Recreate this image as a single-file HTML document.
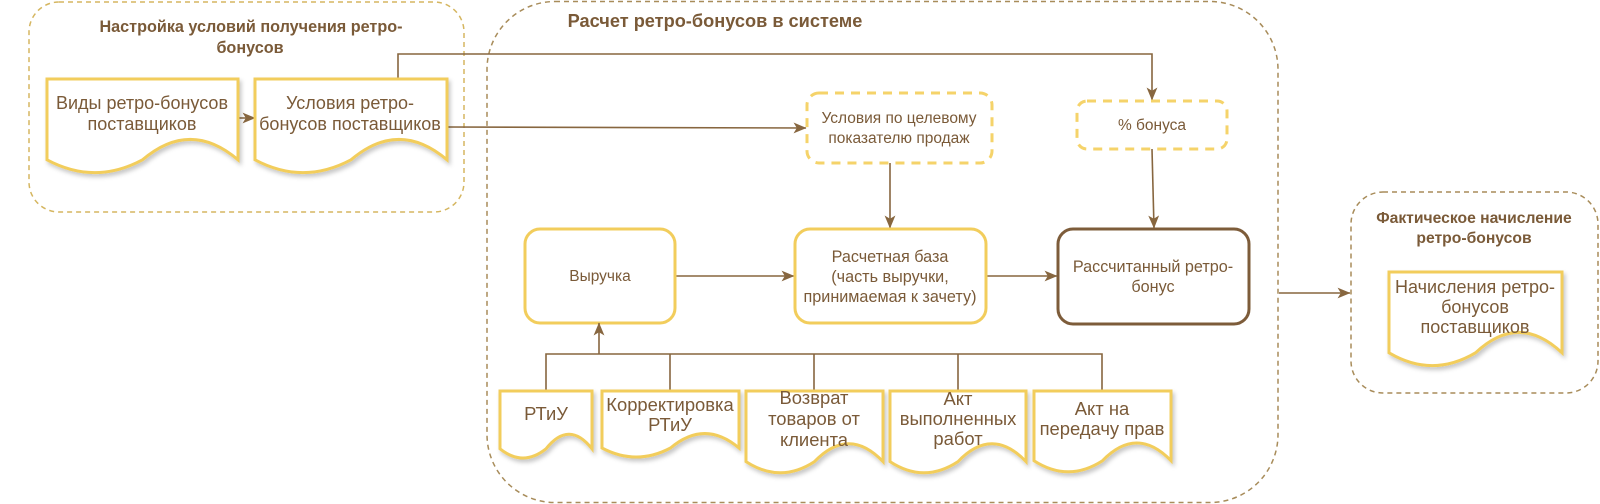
<!DOCTYPE html>
<html><head><meta charset="utf-8"><style>
html,body{margin:0;padding:0;background:#fff;}
svg{display:block;}
text{font-family:"Liberation Sans","DejaVu Sans",sans-serif;fill:#7a5a38;}
.t{font-weight:bold;}
</style></head><body>
<svg width="1600" height="504" viewBox="0 0 1600 504" xmlns="http://www.w3.org/2000/svg">
<defs>
<marker id="ar" viewBox="0 0 12 10" refX="11.5" refY="5" markerWidth="13" markerHeight="11" markerUnits="userSpaceOnUse" orient="auto">
<path d="M0,0 L12,5 L0,10 L3,5 Z" fill="#87663f"/>
</marker>
<filter id="sh" x="-10%" y="-10%" width="130%" height="140%">
<feDropShadow dx="2" dy="3" stdDeviation="2" flood-color="#000" flood-opacity="0.22"/>
</filter>
</defs>

<!-- groups -->
<rect x="29" y="2" width="435" height="210" rx="30" fill="none" stroke="#d5b660" stroke-width="1.5" stroke-dasharray="5 4"/>
<rect x="487" y="1.5" width="791" height="501" rx="68" fill="none" stroke="#a88c5a" stroke-width="1.5" stroke-dasharray="5 4"/>
<rect x="1351" y="192" width="247" height="201" rx="32" fill="none" stroke="#a88c5a" stroke-width="1.5" stroke-dasharray="5 4"/>

<!-- titles -->
<text class="t" x="251" y="32" font-size="16.2" text-anchor="middle">Настройка условий получения ретро-</text>
<text class="t" x="250" y="53" font-size="16.2" text-anchor="middle">бонусов</text>
<text class="t" x="715" y="27" font-size="18.2" text-anchor="middle">Расчет ретро-бонусов в системе</text>
<text class="t" x="1474" y="223" font-size="15.7" text-anchor="middle">Фактическое начисление</text>
<text class="t" x="1474" y="243" font-size="15.7" text-anchor="middle">ретро-бонусов</text>

<!-- connectors -->
<g stroke="#87663f" stroke-width="1.6" fill="none">
<line x1="238" y1="118" x2="255" y2="118" marker-end="url(#ar)"/>
<polyline points="398,79 398,54 1152,54 1152,100" marker-end="url(#ar)"/>
<line x1="447" y1="127" x2="806" y2="128" marker-end="url(#ar)"/>
<line x1="890" y1="163" x2="890" y2="228" marker-end="url(#ar)"/>
<line x1="1152" y1="149" x2="1154" y2="228" marker-end="url(#ar)"/>
<line x1="675" y1="276" x2="794" y2="276" marker-end="url(#ar)"/>
<line x1="986" y1="276" x2="1057" y2="276" marker-end="url(#ar)"/>
<polyline points="546,391 546,354 1102,354 1102,391"/>
<line x1="670" y1="354" x2="670" y2="391"/>
<line x1="814" y1="354" x2="814" y2="391"/>
<line x1="958" y1="354" x2="958" y2="391"/>
<line x1="1279" y1="293" x2="1350" y2="293" marker-end="url(#ar)"/>
</g>

<!-- documents -->
<g fill="#fff" stroke="#f2cd5c" stroke-width="3" filter="url(#sh)">
<path d="M47,79 H238 V159.8 Q190.3,119 142.5,159.8 Q94.8,185.4 47,159.8 Z"/>
<path d="M255,79 H447 V159.8 Q399,119 351,159.8 Q303,185.4 255,159.8 Z"/>
<path d="M1389,272 H1562 V352.8 Q1518.8,312 1475.5,352.8 Q1432.3,378.4 1389,352.8 Z"/>
<path d="M500,391 H592 V448.8 Q569,419.6 546,448.8 Q523,467.2 500,448.8 Z"/>
<path d="M602,391 H739 V448 Q704.8,419.1 670.5,448 Q636.3,466.1 602,448 Z"/>
<path d="M746,391 H883 V461.6 Q848.8,425.9 814.5,461.6 Q780.3,483.9 746,461.6 Z"/>
<path d="M890,391 H1026 V461.6 Q992,425.9 958,461.6 Q924,483.9 890,461.6 Z"/>
<path d="M1034,391 H1171 V460.7 Q1136.8,425.4 1102.5,460.7 Q1068.3,482.8 1034,460.7 Z"/>
</g>

<!-- boxes -->
<rect x="525" y="229" width="150" height="94" rx="15" fill="#fff" stroke="#f2cd5c" stroke-width="3"/>
<rect x="795" y="229" width="191" height="94" rx="15" fill="#fff" stroke="#f2cd5c" stroke-width="3"/>
<rect x="1058" y="229" width="191" height="95" rx="15" fill="#fff" stroke="#7d5c3a" stroke-width="3"/>
<rect x="807" y="93" width="185" height="70" rx="12" fill="#fff" stroke="#f5d36a" stroke-width="3" stroke-dasharray="9 7"/>
<rect x="1077" y="101" width="150" height="48" rx="10" fill="#fff" stroke="#f5d36a" stroke-width="3" stroke-dasharray="9 7"/>

<!-- arrow into Выручка (drawn after boxes) -->
<line x1="599" y1="354" x2="599" y2="323" stroke="#87663f" stroke-width="1.6" marker-end="url(#ar)"/>

<!-- doc texts -->
<g font-size="18" text-anchor="middle">
<text x="142" y="109">Виды ретро-бонусов</text>
<text x="142" y="130">поставщиков</text>
<text x="350" y="109">Условия ретро-</text>
<text x="350" y="130">бонусов поставщиков</text>
<text x="1475" y="293">Начисления ретро-</text>
<text x="1475" y="313">бонусов</text>
<text x="1475" y="333">поставщиков</text>
</g>
<g font-size="18.4" text-anchor="middle">
<text x="546" y="420">РТиУ</text>
<text x="670" y="411">Корректировка</text>
<text x="670" y="431">РТиУ</text>
<text x="814" y="404">Возврат</text>
<text x="814" y="425">товаров от</text>
<text x="814" y="446">клиента</text>
<text x="958" y="405">Акт</text>
<text x="958" y="425">выполненных</text>
<text x="958" y="445">работ</text>
<text x="1102" y="415">Акт на</text>
<text x="1102" y="435">передачу прав</text>
</g>

<!-- box texts -->
<g font-size="15.5" text-anchor="middle">
<text x="899" y="123">Условия по целевому</text>
<text x="899" y="143">показателю продаж</text>
<text x="1152" y="130">% бонуса</text>
<text x="600" y="281">Выручка</text>
</g>
<g font-size="16.2" text-anchor="middle">
<text x="890" y="262">Расчетная база</text>
<text x="890" y="282">(часть выручки,</text>
<text x="890" y="302">принимаемая к зачету)</text>
<text x="1153" y="272">Рассчитанный ретро-</text>
<text x="1153" y="292">бонус</text>
</g>
</svg>
</body></html>
